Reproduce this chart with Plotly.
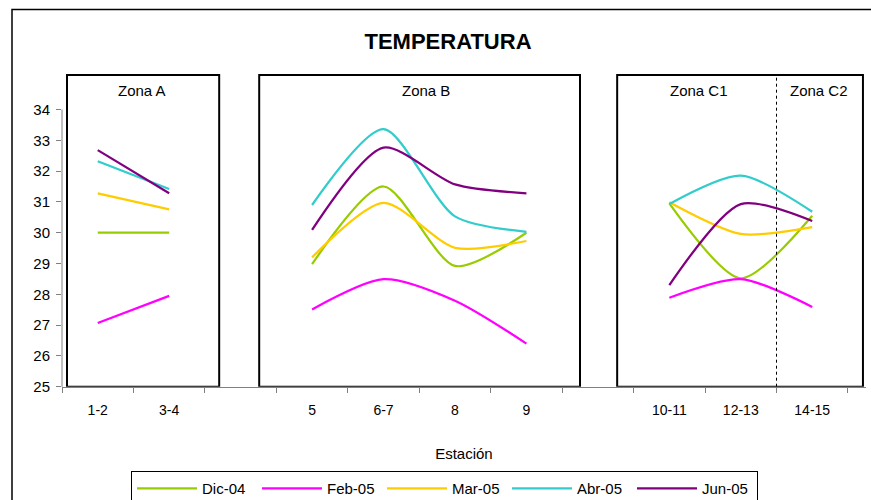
import plotly.graph_objects as go

# ---- data ----
categories = ['1-2', '3-4', ' ', '5', '6-7', '8', '9', '  ', '10-11', '12-13', '14-15']
dic04 = [30.00, 30.00, None, 28.98, 31.50, 28.92, 30.00, None, 30.95, 28.52, 30.55]
feb05 = [27.07, 27.95, None, 27.51, 28.49, 27.79, 26.40, None, 27.89, 28.49, 27.59]
mar05 = [31.28, 30.76, None, 29.20, 30.97, 29.51, 29.73, None, 30.99, 29.96, 30.18]
abr05 = [32.32, 31.42, None, 30.90, 33.36, 30.53, 30.03, None, 30.93, 31.85, 30.68]
jun05 = [32.68, 31.28, None, 30.09, 32.76, 31.57, 31.28, None, 28.30, 30.93, 30.38]
series_names = ['Dic-04', 'Feb-05', 'Mar-05', 'Abr-05', 'Jun-05']
series_values = [dic04, feb05, mar05, abr05, jun05]
colors = ['#99CC00', '#FF00FF', '#FFCC00', '#33CCCC', '#800080']
y_ticks = [25, 26, 27, 28, 29, 30, 31, 32, 33, 34]
zones = [  # (label, x of label, box x0, box x1)
    ('Zona A', 0.62, -0.43, 1.70),
    ('Zona B', 4.59, 2.26, 6.75),
    ('Zona C1', 8.41, 7.27, 10.71),
]
zone_c2_label = ('Zona C2', 10.09)
zone_split = 9.5

FONT = 'Arial, Liberation Sans, sans-serif'
W, H = 871, 500
x_range = [-0.5, 10.75]
y_range = [25, 35.2]
# pixel layout
px_left, px_cat = 62, 71.45
px_bottom, px_unit = 386.7, 30.8
px_right = px_left + (x_range[1] - x_range[0]) * px_cat
px_top = px_bottom - (y_range[1] - y_range[0]) * px_unit
x_dom = [px_left / W, px_right / W]
y_dom = [1 - px_bottom / H, 1 - px_top / H]

fig = go.Figure()
for name, vals, col in zip(series_names, series_values, colors):
    fig.add_trace(go.Scatter(
        x=categories, y=vals, name=name, mode='lines',
        line=dict(color=col, width=2.25, shape='spline', smoothing=0.75),
        connectgaps=False,
    ))

shapes = []
# outer chart border
shapes.append(dict(type='rect', xref='paper', yref='paper', x0=12 / W, x1=1.02,
                   y0=-0.02, y1=1 - 9.5 / H, line=dict(color='black', width=1.5)))
# zone boxes
for label, lx, bx0, bx1 in zones:
    shapes.append(dict(type='rect', xref='x', yref='y', x0=bx0, x1=bx1,
                       y0=25, y1=35.12, line=dict(color='black', width=2)))
# dotted split C1/C2
shapes.append(dict(type='line', xref='x', yref='y', x0=zone_split, x1=zone_split,
                   y0=25, y1=35.12, line=dict(color='black', width=1, dash='dot')))
# y axis line (only up to 34)
shapes.append(dict(type='line', xref='paper', yref='y', x0=x_dom[0], x1=x_dom[0],
                   y0=24.85, y1=34, line=dict(color='#808080', width=1)))

annotations = []
for label, lx, bx0, bx1 in zones:
    annotations.append(dict(x=lx, y=34.62, xref='x', yref='y', text=label,
                            showarrow=False, font=dict(family=FONT, size=15, color='black')))
annotations.append(dict(x=zone_c2_label[1], y=34.62, xref='x', yref='y', text=zone_c2_label[0],
                        showarrow=False, font=dict(family=FONT, size=15, color='black')))

fig.update_layout(
    width=W, height=H,
    margin=dict(l=0, r=0, t=0, b=0, autoexpand=False),
    paper_bgcolor='white', plot_bgcolor='white',
    font=dict(family=FONT, size=15, color='black'),
    title=dict(text='<b>TEMPERATURA</b>', x=448 / W, y=1 - 41 / H,
               xanchor='center', yanchor='middle',
               font=dict(family=FONT, size=22, color='black')),
    xaxis=dict(domain=x_dom, type='category', categoryorder='array', categoryarray=categories,
               range=x_range, tickson='boundaries', ticks='outside', ticklen=5,
               tickcolor='#808080', showline=True, linecolor='#808080', linewidth=1,
               showgrid=False, zeroline=False, ticklabelstandoff=10, automargin=False,
               tickfont=dict(family=FONT, size=14),
               title=dict(text='Estación', standoff=31, font=dict(family=FONT, size=15))),
    yaxis=dict(domain=y_dom, range=y_range, tickvals=y_ticks, ticks='outside', ticklen=5,
               tickcolor='#808080', showline=False, showgrid=False, zeroline=False,
               automargin=False,
               ticklabelstandoff=3, tickfont=dict(family=FONT, size=15)),
    showlegend=True,
    legend=dict(orientation='h', x=444.5 / W, xanchor='center', y=1 - 471 / H, yanchor='top',
                bordercolor='black', borderwidth=1, font=dict(family=FONT, size=15),
                itemwidth=60, entrywidth=50, tracegroupgap=0),
    shapes=shapes,
    annotations=annotations,
)

fig.write_html('out.html')
